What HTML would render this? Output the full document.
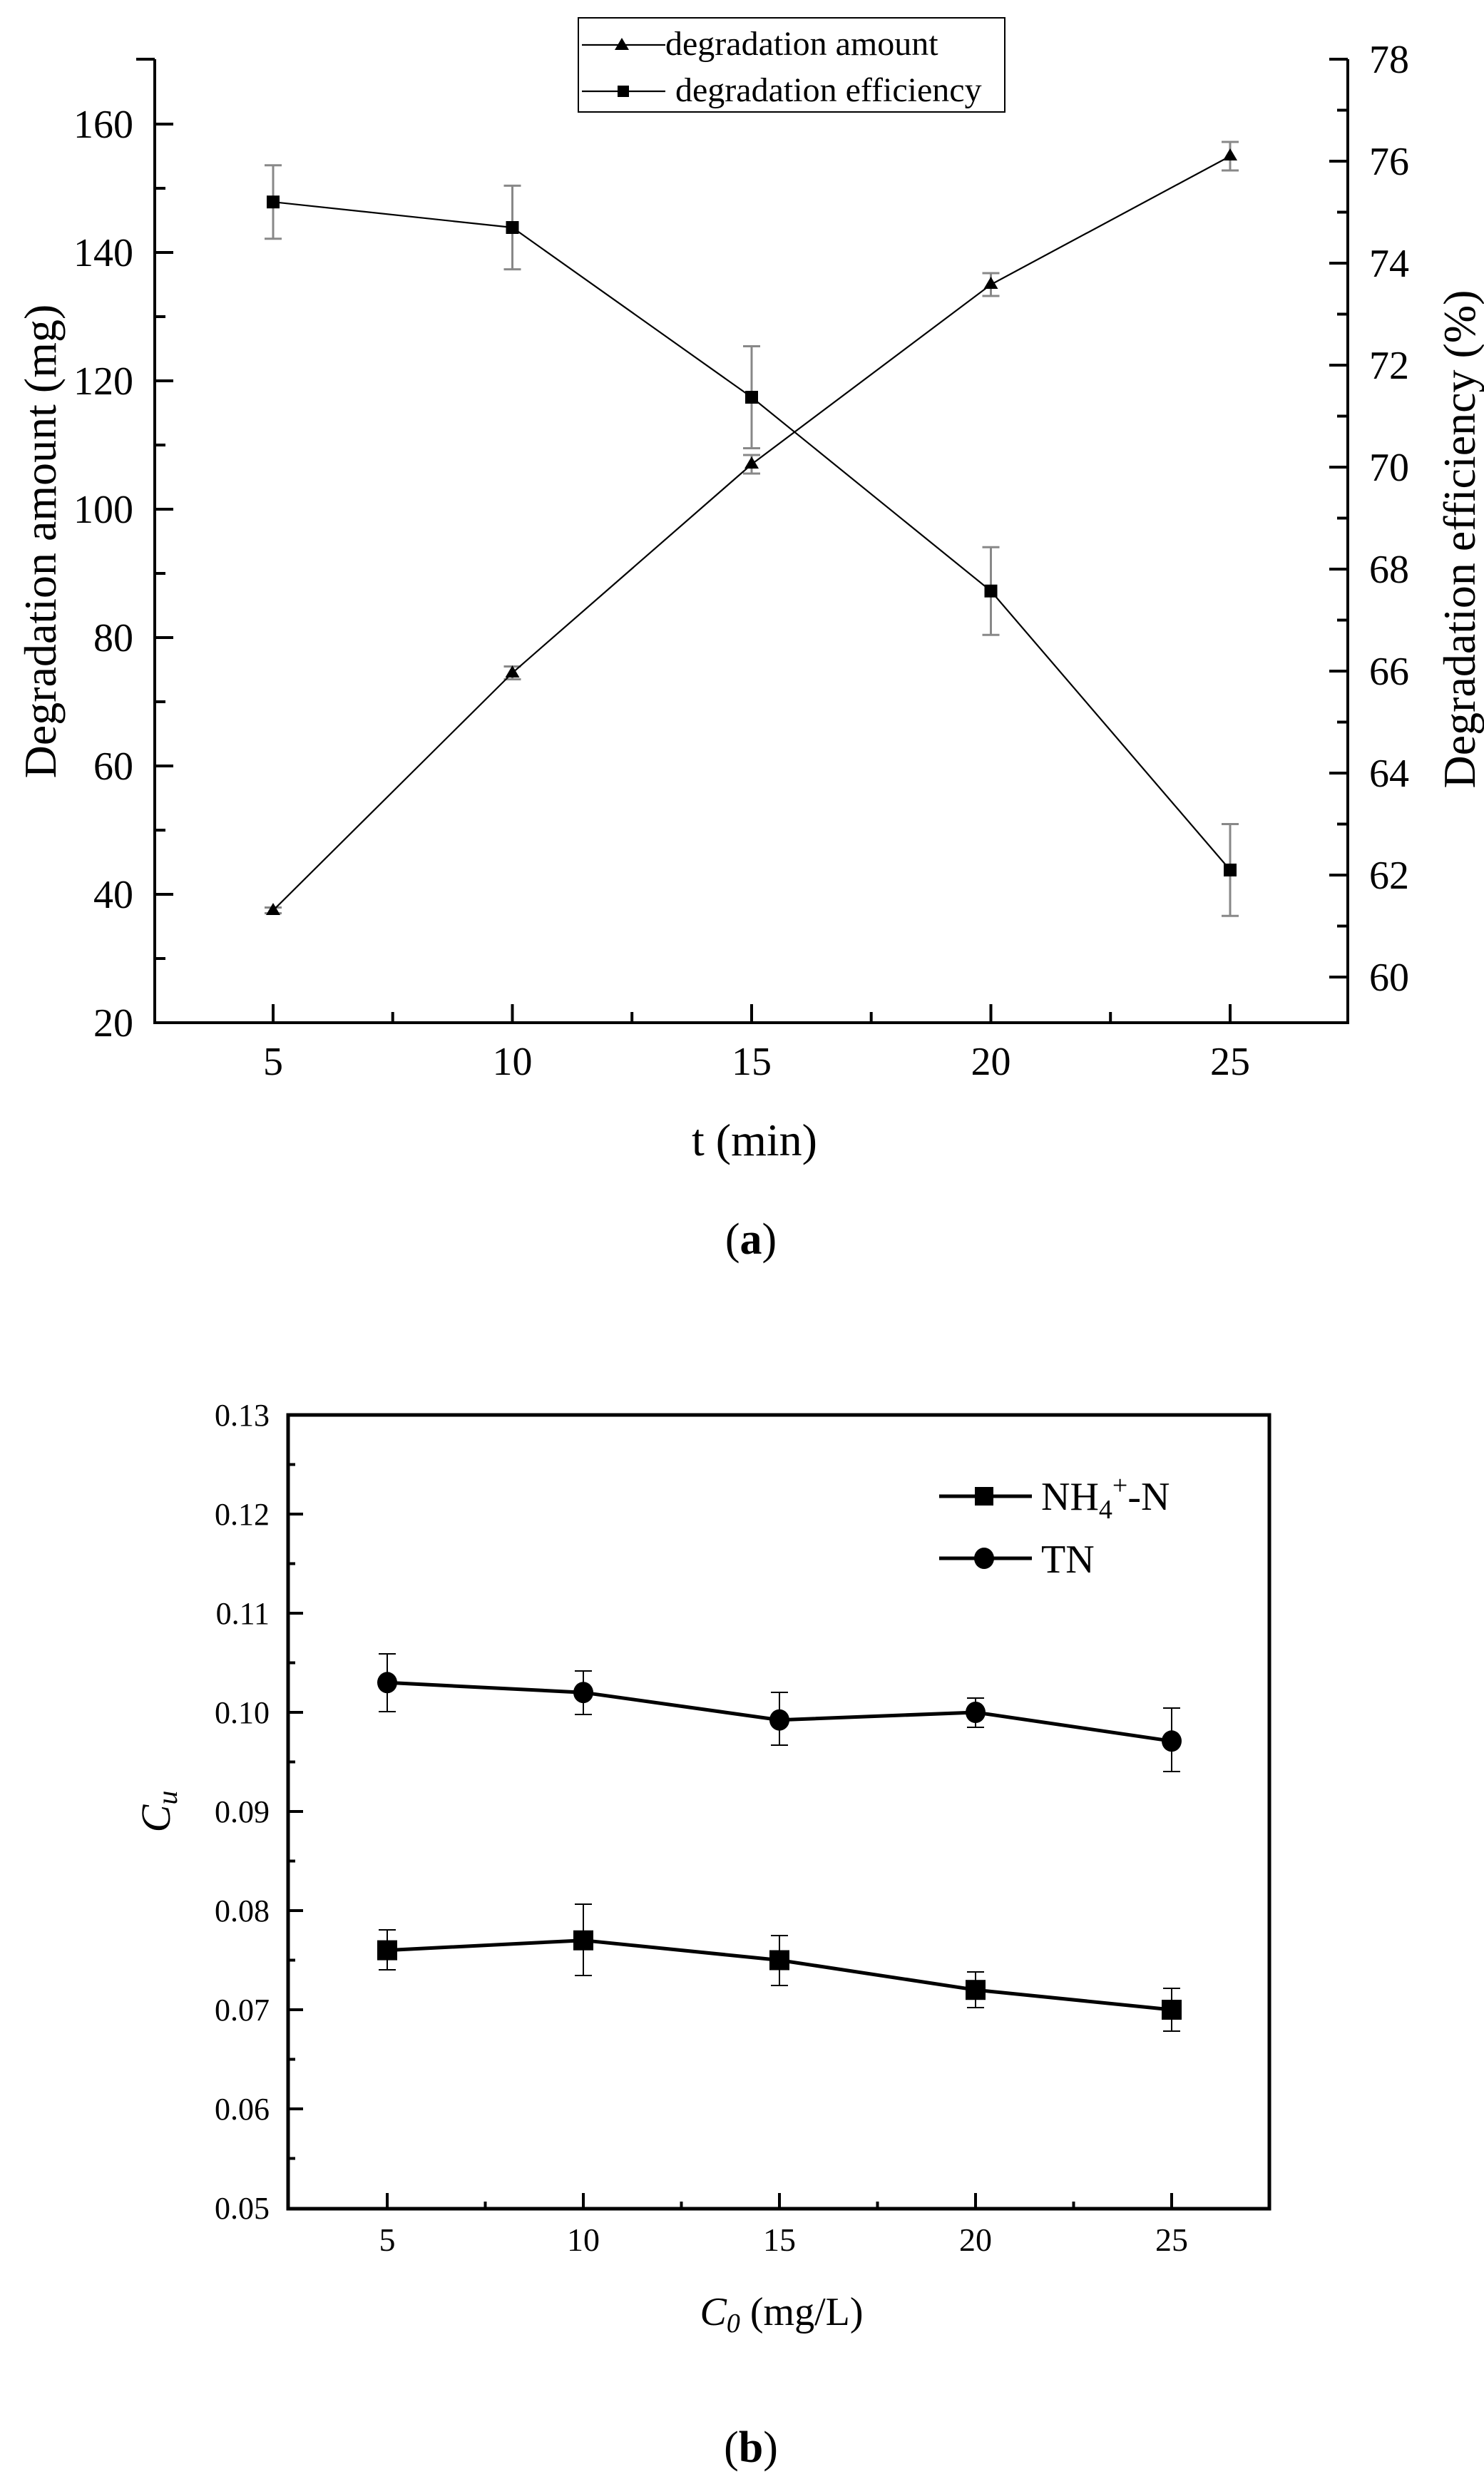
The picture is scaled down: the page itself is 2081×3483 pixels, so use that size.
<!DOCTYPE html>
<html><head><meta charset="utf-8"><style>
html,body{margin:0;padding:0;background:#fff}
svg{display:block}
text{font-family:"Liberation Serif",serif;fill:#000}
</style></head><body>
<svg width="2081" height="3483" viewBox="0 0 2081 3483" xmlns="http://www.w3.org/2000/svg">
<!-- Chart A -->
<g stroke="#000" stroke-width="4" fill="none">
<polyline points="217,83 217,1434 1890,1434 1890,83"/>
<line x1="191" y1="83" x2="217" y2="83"/><line x1="1890" y1="83" x2="1864" y2="83"/>
</g>
<g stroke="#000" stroke-width="4">
<line x1="217" y1="1434" x2="243" y2="1434"/><line x1="217" y1="1254" x2="243" y2="1254"/><line x1="217" y1="1074" x2="243" y2="1074"/><line x1="217" y1="894" x2="243" y2="894"/><line x1="217" y1="714" x2="243" y2="714"/><line x1="217" y1="534" x2="243" y2="534"/><line x1="217" y1="354" x2="243" y2="354"/><line x1="217" y1="174" x2="243" y2="174"/>
<line x1="217" y1="1344" x2="232" y2="1344"/><line x1="217" y1="1164" x2="232" y2="1164"/><line x1="217" y1="984" x2="232" y2="984"/><line x1="217" y1="804" x2="232" y2="804"/><line x1="217" y1="624" x2="232" y2="624"/><line x1="217" y1="444" x2="232" y2="444"/><line x1="217" y1="264" x2="232" y2="264"/>
<line x1="1890" y1="1370" x2="1864" y2="1370"/><line x1="1890" y1="1227" x2="1864" y2="1227"/><line x1="1890" y1="1084" x2="1864" y2="1084"/><line x1="1890" y1="941" x2="1864" y2="941"/><line x1="1890" y1="798" x2="1864" y2="798"/><line x1="1890" y1="655" x2="1864" y2="655"/><line x1="1890" y1="512" x2="1864" y2="512"/><line x1="1890" y1="369" x2="1864" y2="369"/><line x1="1890" y1="226" x2="1864" y2="226"/>
<line x1="1890" y1="1298.5" x2="1875" y2="1298.5"/><line x1="1890" y1="1155.5" x2="1875" y2="1155.5"/><line x1="1890" y1="1012.5" x2="1875" y2="1012.5"/><line x1="1890" y1="869.5" x2="1875" y2="869.5"/><line x1="1890" y1="726.5" x2="1875" y2="726.5"/><line x1="1890" y1="583.5" x2="1875" y2="583.5"/><line x1="1890" y1="440.5" x2="1875" y2="440.5"/><line x1="1890" y1="297.5" x2="1875" y2="297.5"/><line x1="1890" y1="154.5" x2="1875" y2="154.5"/>
<line x1="383" y1="1434" x2="383" y2="1408"/><line x1="718.5" y1="1434" x2="718.5" y2="1408"/><line x1="1054" y1="1434" x2="1054" y2="1408"/><line x1="1389.5" y1="1434" x2="1389.5" y2="1408"/><line x1="1725" y1="1434" x2="1725" y2="1408"/>
<line x1="550.7" y1="1434" x2="550.7" y2="1419"/><line x1="886.2" y1="1434" x2="886.2" y2="1419"/><line x1="1221.7" y1="1434" x2="1221.7" y2="1419"/><line x1="1557.2" y1="1434" x2="1557.2" y2="1419"/>
</g>
<g font-size="56" text-anchor="end">
<text x="187" y="1453">20</text><text x="187" y="1273">40</text><text x="187" y="1093">60</text><text x="187" y="913">80</text><text x="187" y="733">100</text><text x="187" y="553">120</text><text x="187" y="373">140</text><text x="187" y="193">160</text>
</g>
<g font-size="56">
<text x="1920" y="1389">60</text><text x="1920" y="1246">62</text><text x="1920" y="1103">64</text><text x="1920" y="960">66</text><text x="1920" y="817">68</text><text x="1920" y="674">70</text><text x="1920" y="531">72</text><text x="1920" y="388">74</text><text x="1920" y="245">76</text><text x="1920" y="102">78</text>
</g>
<g font-size="56" text-anchor="middle">
<text x="383" y="1507">5</text><text x="718.5" y="1507">10</text><text x="1054" y="1507">15</text><text x="1389.5" y="1507">20</text><text x="1725" y="1507">25</text>
</g>
<text x="1058" y="1620" font-size="64" text-anchor="middle">t (min)</text>
<text transform="translate(78,759) rotate(-90)" font-size="64" text-anchor="middle">Degradation amount (mg)</text>
<text transform="translate(2068,756) rotate(-90)" font-size="64" text-anchor="middle">Degradation efficiency (%)</text>
<g stroke="#888" stroke-width="3">
<line x1="383" y1="231.7" x2="383" y2="334.7"/><line x1="371" y1="231.7" x2="395" y2="231.7"/><line x1="371" y1="334.7" x2="395" y2="334.7"/>
<line x1="718.5" y1="260.4" x2="718.5" y2="377.6"/><line x1="706.5" y1="260.4" x2="730.5" y2="260.4"/><line x1="706.5" y1="377.6" x2="730.5" y2="377.6"/>
<line x1="1054" y1="485.5" x2="1054" y2="628.5"/><line x1="1042" y1="485.5" x2="1066" y2="485.5"/><line x1="1042" y1="628.5" x2="1066" y2="628.5"/>
<line x1="1389.5" y1="767.2" x2="1389.5" y2="890.2"/><line x1="1377.5" y1="767.2" x2="1401.5" y2="767.2"/><line x1="1377.5" y1="890.2" x2="1401.5" y2="890.2"/>
<line x1="1725" y1="1155.5" x2="1725" y2="1284.3"/><line x1="1713" y1="1155.5" x2="1737" y2="1155.5"/><line x1="1713" y1="1284.3" x2="1737" y2="1284.3"/>
<line x1="371" y1="1272.5" x2="395" y2="1272.5"/><line x1="371" y1="1280.5" x2="395" y2="1280.5"/>
<line x1="718.5" y1="934.5" x2="718.5" y2="952.5"/><line x1="706.5" y1="934.5" x2="730.5" y2="934.5"/><line x1="706.5" y1="952.5" x2="730.5" y2="952.5"/>
<line x1="1054" y1="638" x2="1054" y2="664"/><line x1="1042" y1="638" x2="1066" y2="638"/><line x1="1042" y1="664" x2="1066" y2="664"/>
<line x1="1389.5" y1="383" x2="1389.5" y2="415"/><line x1="1377.5" y1="383" x2="1401.5" y2="383"/><line x1="1377.5" y1="415" x2="1401.5" y2="415"/>
<line x1="1725" y1="199" x2="1725" y2="239"/><line x1="1713" y1="199" x2="1737" y2="199"/><line x1="1713" y1="239" x2="1737" y2="239"/>
</g>
<g stroke="#000" stroke-width="2.2" fill="none">
<polyline points="383,1276.5 718.5,943.5 1054,651 1389.5,399 1725,219"/>
<polyline points="383,283.2 718.5,319 1054,557 1389.5,828.7 1725,1219.9"/>
</g>
<g fill="#000">
<polygon points="383,1266 373,1283 393,1283"/><polygon points="718.5,933 708.5,950 728.5,950"/><polygon points="1054,640 1044,657 1064,657"/><polygon points="1389.5,388 1379.5,405 1399.5,405"/><polygon points="1725,208 1715,225 1735,225"/>
<rect x="374" y="274.2" width="18" height="18"/><rect x="709.5" y="310" width="18" height="18"/><rect x="1045" y="548" width="18" height="18"/><rect x="1380.5" y="819.7" width="18" height="18"/><rect x="1716" y="1210.9" width="18" height="18"/>
</g>
<rect x="811" y="25" width="598" height="132" fill="#fff" stroke="#000" stroke-width="2"/>
<line x1="816" y1="63" x2="933" y2="63" stroke="#000" stroke-width="2.2"/>
<polygon points="872,53 862,70 882,70" fill="#000"/>
<text x="933" y="77" font-size="48">degradation amount</text>
<line x1="816" y1="128" x2="933" y2="128" stroke="#000" stroke-width="2.2"/>
<rect x="866" y="120" width="16" height="16" fill="#000"/>
<text x="947" y="142" font-size="48">degradation efficiency</text>
<text x="1053" y="1758" font-size="62" text-anchor="middle">(<tspan font-weight="bold">a</tspan>)</text>

<!-- Chart B -->
<rect x="404" y="1984" width="1376" height="1113" fill="none" stroke="#000" stroke-width="5"/>
<g stroke="#000" stroke-width="4">
<line x1="404" y1="2123" x2="425" y2="2123"/><line x1="404" y1="2262" x2="425" y2="2262"/><line x1="404" y1="2401" x2="425" y2="2401"/><line x1="404" y1="2540" x2="425" y2="2540"/><line x1="404" y1="2679" x2="425" y2="2679"/><line x1="404" y1="2818" x2="425" y2="2818"/><line x1="404" y1="2957" x2="425" y2="2957"/>
<line x1="404" y1="2053.5" x2="414" y2="2053.5"/><line x1="404" y1="2192.5" x2="414" y2="2192.5"/><line x1="404" y1="2331.5" x2="414" y2="2331.5"/><line x1="404" y1="2470.5" x2="414" y2="2470.5"/><line x1="404" y1="2609.5" x2="414" y2="2609.5"/><line x1="404" y1="2748.5" x2="414" y2="2748.5"/><line x1="404" y1="2887.5" x2="414" y2="2887.5"/><line x1="404" y1="3026.5" x2="414" y2="3026.5"/>
<line x1="543" y1="3097" x2="543" y2="3075"/><line x1="818" y1="3097" x2="818" y2="3075"/><line x1="1093" y1="3097" x2="1093" y2="3075"/><line x1="1368" y1="3097" x2="1368" y2="3075"/><line x1="1643" y1="3097" x2="1643" y2="3075"/>
<line x1="680.5" y1="3097" x2="680.5" y2="3087"/><line x1="955.5" y1="3097" x2="955.5" y2="3087"/><line x1="1230.5" y1="3097" x2="1230.5" y2="3087"/><line x1="1505.5" y1="3097" x2="1505.5" y2="3087"/>
</g>
<g font-size="44" text-anchor="end">
<text x="378" y="1999">0.13</text><text x="378" y="2138">0.12</text><text x="378" y="2277">0.11</text><text x="378" y="2416">0.10</text><text x="378" y="2555">0.09</text><text x="378" y="2694">0.08</text><text x="378" y="2833">0.07</text><text x="378" y="2972">0.06</text><text x="378" y="3111">0.05</text>
</g>
<g font-size="46" text-anchor="middle">
<text x="543" y="3156">5</text><text x="818" y="3156">10</text><text x="1093" y="3156">15</text><text x="1368" y="3156">20</text><text x="1643" y="3156">25</text>
</g>
<text x="1096" y="3260" font-size="56" text-anchor="middle"><tspan font-style="italic">C<tspan font-size="38" dy="10">0</tspan></tspan><tspan dy="-10"> (mg/L)</tspan></text>
<text transform="translate(238,2540) rotate(-90)" font-size="58" text-anchor="middle" font-style="italic">C<tspan font-size="40" dy="10">u</tspan></text>
<g stroke="#000" stroke-width="2">
<line x1="543" y1="2319" x2="543" y2="2400"/><line x1="531" y1="2319" x2="555" y2="2319"/><line x1="531" y1="2400" x2="555" y2="2400"/>
<line x1="818" y1="2343" x2="818" y2="2404"/><line x1="806" y1="2343" x2="830" y2="2343"/><line x1="806" y1="2404" x2="830" y2="2404"/>
<line x1="1093" y1="2373" x2="1093" y2="2447"/><line x1="1081" y1="2373" x2="1105" y2="2373"/><line x1="1081" y1="2447" x2="1105" y2="2447"/>
<line x1="1368" y1="2381" x2="1368" y2="2422"/><line x1="1356" y1="2381" x2="1380" y2="2381"/><line x1="1356" y1="2422" x2="1380" y2="2422"/>
<line x1="1643" y1="2395" x2="1643" y2="2484"/><line x1="1631" y1="2395" x2="1655" y2="2395"/><line x1="1631" y1="2484" x2="1655" y2="2484"/>
<line x1="543" y1="2706" x2="543" y2="2762"/><line x1="531" y1="2706" x2="555" y2="2706"/><line x1="531" y1="2762" x2="555" y2="2762"/>
<line x1="818" y1="2670" x2="818" y2="2770"/><line x1="806" y1="2670" x2="830" y2="2670"/><line x1="806" y1="2770" x2="830" y2="2770"/>
<line x1="1093" y1="2714" x2="1093" y2="2784"/><line x1="1081" y1="2714" x2="1105" y2="2714"/><line x1="1081" y1="2784" x2="1105" y2="2784"/>
<line x1="1368" y1="2765" x2="1368" y2="2815"/><line x1="1356" y1="2765" x2="1380" y2="2765"/><line x1="1356" y1="2815" x2="1380" y2="2815"/>
<line x1="1643" y1="2788" x2="1643" y2="2848"/><line x1="1631" y1="2788" x2="1655" y2="2788"/><line x1="1631" y1="2848" x2="1655" y2="2848"/>
</g>
<g stroke="#000" stroke-width="5" fill="none">
<polyline points="543,2359.3 818,2373.2 1093,2411.7 1368,2401 1643,2441.3"/>
<polyline points="543,2734.6 818,2720.7 1093,2748.5 1368,2790.2 1643,2818"/>
</g>
<g fill="#000">
<ellipse cx="543" cy="2359.3" rx="14" ry="15"/><ellipse cx="818" cy="2373.2" rx="14" ry="15"/><ellipse cx="1093" cy="2411.7" rx="14" ry="15"/><ellipse cx="1368" cy="2401" rx="14" ry="15"/><ellipse cx="1643" cy="2441.3" rx="14" ry="15"/>
<rect x="529" y="2720.6" width="28" height="28"/><rect x="804" y="2706.7" width="28" height="28"/><rect x="1079" y="2734.5" width="28" height="28"/><rect x="1354" y="2776.2" width="28" height="28"/><rect x="1629" y="2804" width="28" height="28"/>
</g>
<line x1="1317" y1="2098" x2="1447" y2="2098" stroke="#000" stroke-width="5"/>
<rect x="1367" y="2085" width="26" height="26" fill="#000"/>
<text x="1460" y="2117" font-size="56">NH<tspan font-size="38" dy="12">4</tspan><tspan font-size="38" dy="-34">+</tspan><tspan dy="22">-N</tspan></text>
<line x1="1317" y1="2185" x2="1447" y2="2185" stroke="#000" stroke-width="5"/>
<ellipse cx="1380" cy="2185" rx="14" ry="15" fill="#000"/>
<text x="1460" y="2205" font-size="56">TN</text>
<text x="1053" y="3452" font-size="62" text-anchor="middle">(<tspan font-weight="bold">b</tspan>)</text>
</svg>
</body></html>
